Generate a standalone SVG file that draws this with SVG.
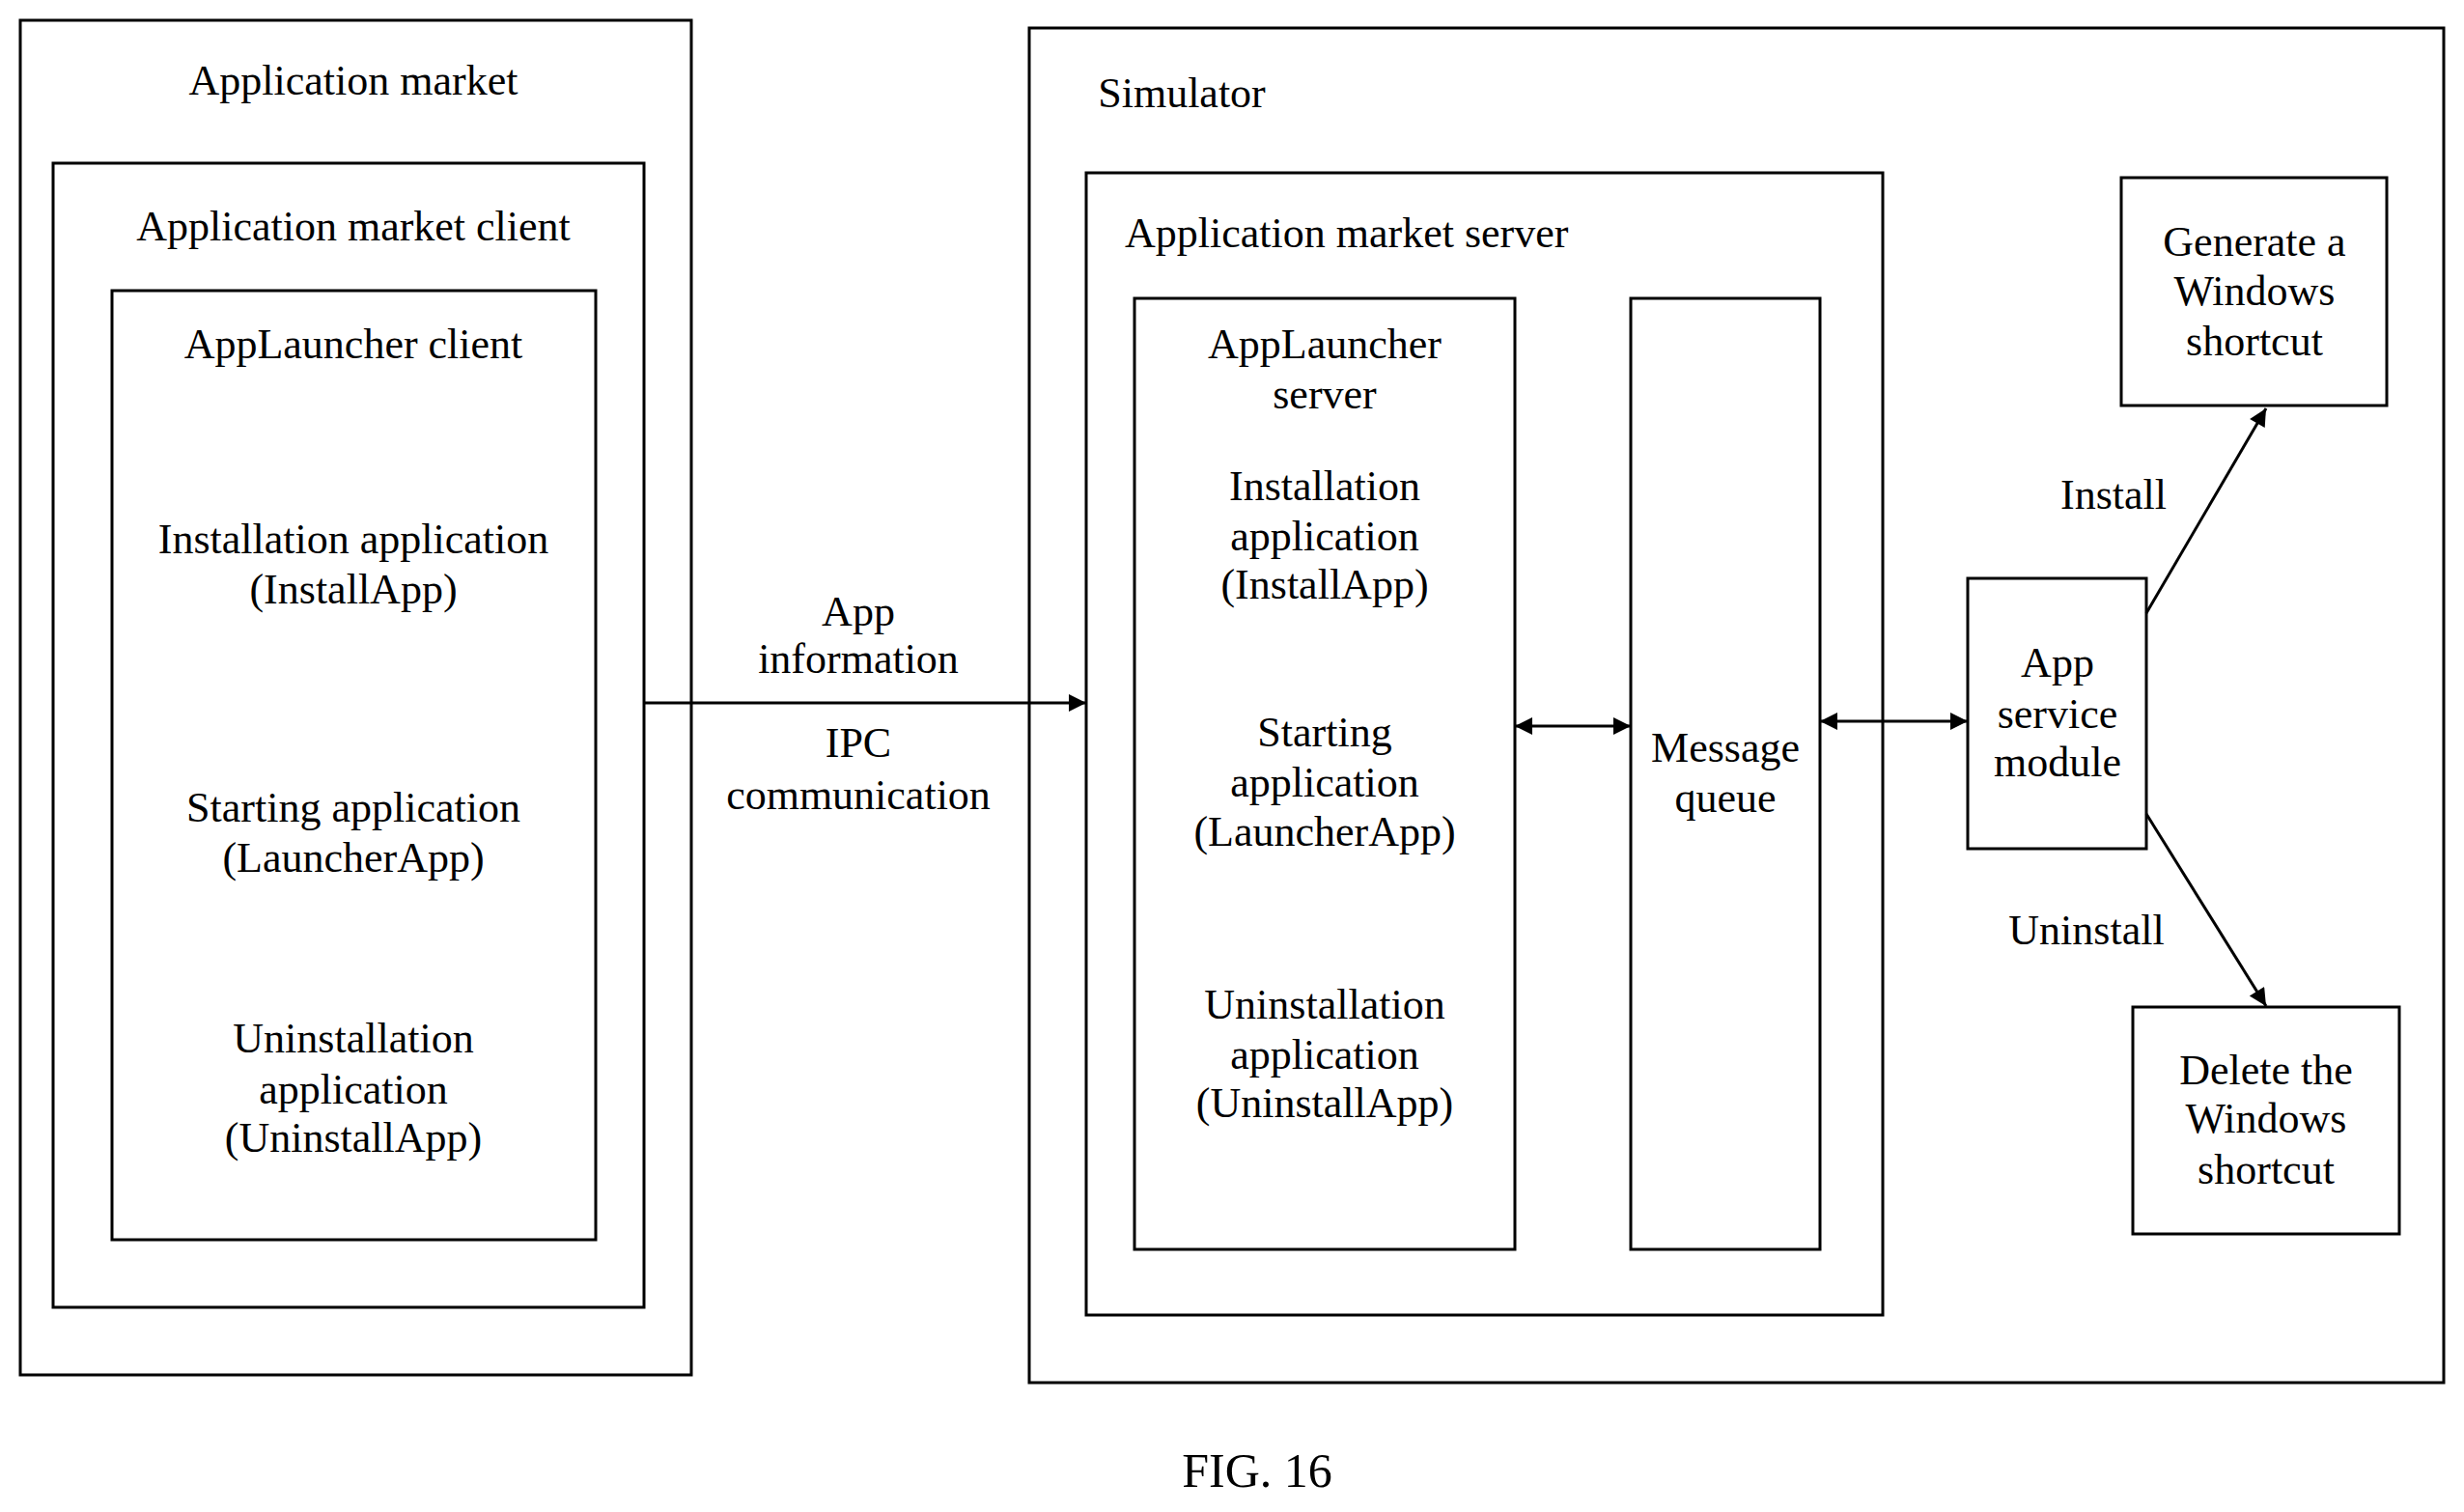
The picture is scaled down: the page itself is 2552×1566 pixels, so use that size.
<svg xmlns="http://www.w3.org/2000/svg" width="2552" height="1566" viewBox="0 0 2552 1566">
<style>
rect{fill:none;stroke:#000;stroke-width:3}
text{font-family:"Liberation Serif","Times New Roman",serif;font-size:44px;fill:#000;text-anchor:middle}
.c line{stroke:#000;stroke-width:3}
</style>
<defs>
<marker id="b" viewBox="0 0 10 10" refX="10" refY="5" markerWidth="24" markerHeight="18" markerUnits="userSpaceOnUse" orient="auto-start-reverse"><path d="M0,0L10,5L0,10z" fill="#000"/></marker>
</defs>
<rect x="0" y="0" width="2552" height="1566" style="fill:#fff;stroke:none"/>
<g id="market"><rect x="21" y="21" width="695" height="1403"/><text x="366" y="98">Application market</text></g>
<g id="client"><rect x="55" y="169" width="612" height="1185"/><text x="366" y="249">Application market client</text></g>
<g id="alclient"><rect x="116" y="301" width="501" height="983"/>
<text x="366" y="371">AppLauncher client</text>
<text x="366" y="573">Installation application</text><text x="366" y="625">(InstallApp)</text>
<text x="366" y="851">Starting application</text><text x="366" y="903">(LauncherApp)</text>
<text x="366" y="1090">Uninstallation</text><text x="366" y="1143">application</text><text x="366" y="1193">(UninstallApp)</text></g>
<g id="simulator"><rect x="1066" y="29" width="1465" height="1403"/><text x="1224" y="111">Simulator</text></g>
<g id="server"><rect x="1125" y="179" width="825" height="1183"/><text x="1165" y="256" style="text-anchor:start">Application market server</text></g>
<g id="alserver"><rect x="1175" y="309" width="394" height="985"/>
<text x="1372" y="371">AppLauncher</text><text x="1372" y="423">server</text>
<text x="1372" y="518">Installation</text><text x="1372" y="570">application</text><text x="1372" y="620">(InstallApp)</text>
<text x="1372" y="773">Starting</text><text x="1372" y="825">application</text><text x="1372" y="876">(LauncherApp)</text>
<text x="1372" y="1055">Uninstallation</text><text x="1372" y="1107">application</text><text x="1372" y="1157">(UninstallApp)</text></g>
<g id="mq"><rect x="1689" y="309" width="196" height="985"/><text x="1787" y="789">Message</text><text x="1787" y="841">queue</text></g>
<g id="service"><rect x="2038" y="599" width="185" height="280"/><text x="2131" y="701">App</text><text x="2131" y="754">service</text><text x="2131" y="804">module</text></g>
<g id="gen"><rect x="2197" y="184" width="275" height="236"/><text x="2335" y="265">Generate a</text><text x="2335" y="316">Windows</text><text x="2335" y="368">shortcut</text></g>
<g id="del"><rect x="2209" y="1043" width="276" height="235"/><text x="2347" y="1123">Delete the</text><text x="2347" y="1173">Windows</text><text x="2347" y="1226">shortcut</text></g>
<g class="c">
<line x1="667" y1="728" x2="1125" y2="728" marker-end="url(#b)"/>
<line x1="1569" y1="752" x2="1689" y2="752" marker-start="url(#b)" marker-end="url(#b)"/>
<line x1="1885" y1="747" x2="2038" y2="747" marker-start="url(#b)" marker-end="url(#b)"/>
<line x1="2223" y1="635" x2="2347" y2="423" marker-end="url(#b)"/>
<line x1="2223" y1="843" x2="2347" y2="1042" marker-end="url(#b)"/>
</g>
<g id="labels">
<text x="889" y="648">App</text><text x="889" y="697">information</text>
<text x="889" y="784">IPC</text><text x="889" y="838">communication</text>
<text x="2189" y="527">Install</text><text x="2161" y="978">Uninstall</text>
<text x="1302" y="1540" style="font-size:50px">FIG. 16</text>
</g>
</svg>
